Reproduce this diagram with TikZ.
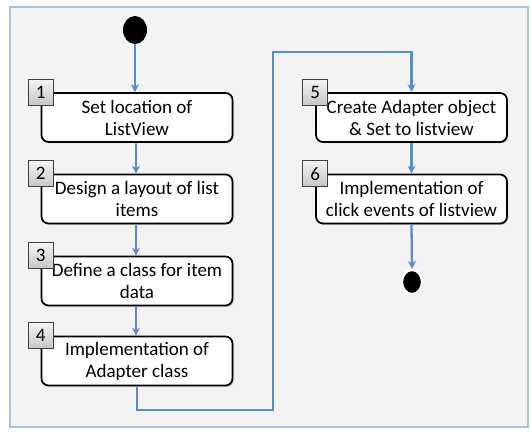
\documentclass[tikz,border=0pt]{standalone}
\usepackage{fontspec}
\setmainfont{Carlito}
\usetikzlibrary{arrows.meta,shapes.geometric,shadows}
\definecolor{flowblue}{HTML}{5B8CC8}
\definecolor{framefill}{HTML}{F3F3F3}
\definecolor{frameedge}{HTML}{A9C3DF}
\tikzset{
  stepbox/.style={draw=black, line width=1.7pt, fill=white, rounded corners=7pt,
    minimum width=191pt, minimum height=49pt, inner sep=0pt, align=center,
    font=\fontsize{19}{22}\selectfont,
    drop shadow={shadow xshift=1.2pt, shadow yshift=-1.2pt, opacity=0.25, fill=black}},
  numbox/.style={draw=black!75, line width=0.8pt, top color=gray!8, bottom color=gray!45,
    minimum width=25pt, minimum height=26pt, inner sep=0pt,
    font=\fontsize{19}{22}\selectfont},
  flow/.style={draw=flowblue, line width=2.3pt, -{Stealth[length=8pt,width=8pt,inset=2.5pt]}},
  dot/.style={ellipse, fill=black, inner sep=0pt}
}
\begin{document}
\begin{tikzpicture}[x=1pt,y=-1pt]
\useasboundingbox (0,0) rectangle (531,437);
\draw[frameedge, line width=1.8pt, fill=framefill] (10,7) rectangle (528,427);

\node[dot, minimum width=24pt, minimum height=28pt] (start) at (135,30) {};

\node[stepbox] (b1) at (137,117.5) {Set location of\\ListView};
\node[stepbox] (b2) at (137,199) {Design a layout of list\\items};
\node[stepbox] (b3) at (137,281) {Define a class for item\\data};
\node[stepbox] (b4) at (137,361) {Implementation of\\Adapter class};
\node[stepbox] (b5) at (411.5,117.5) {Create Adapter object\\\& Set to listview};
\node[stepbox] (b6) at (411.5,199) {Implementation of\\click events of listview};

\node[numbox] (n1) at (b1.north west) {1};
\node[numbox] (n2) at (b2.north west) {2};
\node[numbox] (n3) at (b3.north west) {3};
\node[numbox] (n4) at (b4.north west) {4};
\node[numbox] (n5) at (b5.north west) {5};
\node[numbox] (n6) at (b6.north west) {6};

\node[dot, minimum width=20pt, minimum height=24pt, draw=white, line width=2.2pt,
  drop shadow={shadow xshift=0.8pt, shadow yshift=-0.8pt, opacity=0.35, fill=black}] (end) at (412,282) {};

\coordinate (c1) at (273,410);
\coordinate (c2) at (273,52);

\draw[flow] (start.south) -- (start.south |- b1.north);
\draw[flow] ([xshift=-1pt]b1.south) -- ([xshift=-1pt]b2.north);
\draw[flow] ([xshift=-1pt]b2.south) -- ([xshift=-1pt]b3.north);
\draw[flow] ([xshift=-1pt]b3.south) -- ([xshift=-1pt]b4.north);
\draw[flow] (b4.south) |- (c1) -- (c2) -| (b5.north);
\draw[flow] (b5.south) -- (b6.north);
\draw[flow] (b6.south) -- (end.north);

\end{tikzpicture}
\end{document}
